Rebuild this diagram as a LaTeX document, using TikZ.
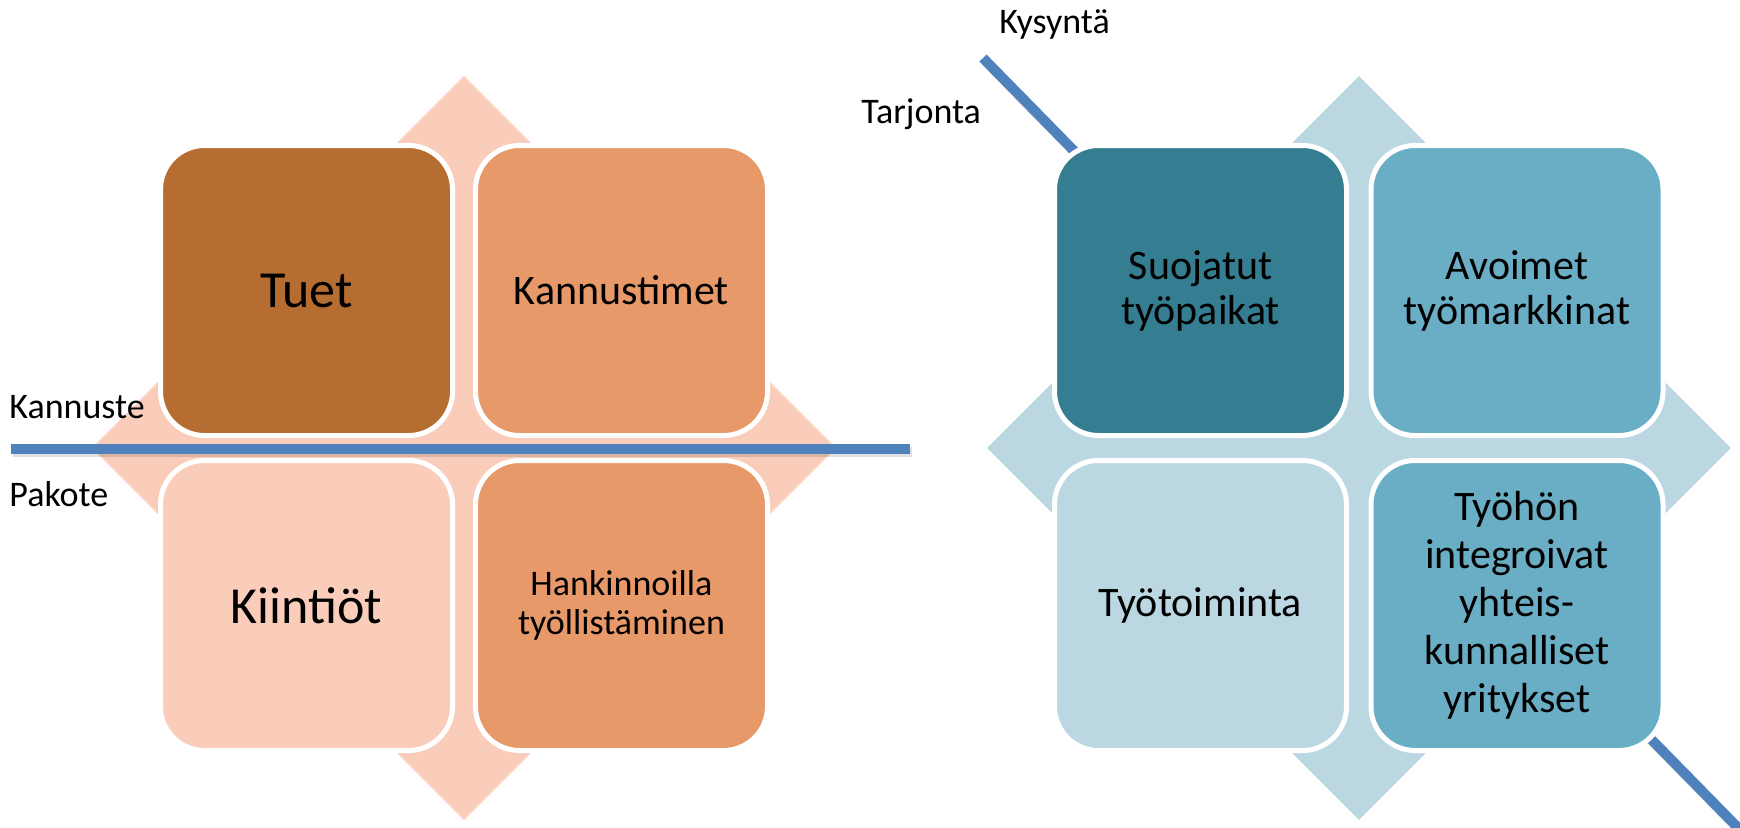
\documentclass[tikz,border=0pt]{standalone}
\usepackage{fontspec}
\setmainfont{Carlito}
\usetikzlibrary{shapes.geometric}

\definecolor{brownbox}{HTML}{B56D32}
\definecolor{orangebox}{HTML}{E8996A}
\definecolor{peach}{HTML}{F9CDB9}
\definecolor{tealbox}{HTML}{357D91}
\definecolor{bluebox}{HTML}{6AAEC5}
\definecolor{paleblue}{HTML}{BBD8E2}
\definecolor{axisblue}{HTML}{4F81BD}

\tikzset{
  cell/.style={draw=white, line width=2.5pt, rounded corners=22pt,
    minimum width=146pt, minimum height=145pt, inner sep=0pt,
    align=center, font=\fontsize{21}{22.5}\selectfont},
  backdrop/.style={diamond, inner sep=0pt, minimum size=372pt},
  axis/.style={draw=axisblue, line width=5pt},
  axisshadow/.style={draw=black, opacity=0.12, line width=5pt},
  lbl/.style={anchor=base west, inner sep=0pt, font=\fontsize{18}{20}\selectfont}
}

\begin{document}
\begin{tikzpicture}[x=0.5pt, y=-0.5pt]
  \useasboundingbox (0,0) rectangle (1740,827);
  \clip (0,0) rectangle (1740,827);

  % left matrix
  \node[backdrop, fill=peach] (lbg) at (464,448) {};
  \node[cell, fill=brownbox, font=\fontsize{26}{28}\selectfont] (tuet) at (306.5,290.5) {Tuet};
  \node[cell, fill=orangebox] (kannustimet) at (621.5,290.5) {Kannustimet};
  \node[cell, fill=peach, font=\fontsize{26}{28}\selectfont] (kiintiot) at (306.5,605.5) {Kiintiöt};
  \node[cell, fill=orangebox, font=\fontsize{18}{19.2}\selectfont] (hankinnat) at (621.5,605.5) {Hankinnoilla\\työllistäminen};

  \coordinate (hl) at (11,449);
  \coordinate (hr) at (910,449);
  \draw[axisshadow] ([shift={(2,3)}]hl) -- ([shift={(2,3)}]hr);
  \draw[axis] (hl) -- (hr);

  \node[lbl] (kannuste) at (9,418) {Kannuste};
  \node[lbl] (pakote) at (9,506.5) {Pakote};

  % right matrix
  \coordinate (dt) at (983,58);
  \coordinate (db) at (1750,840);
  \draw[axisshadow] ([shift={(2,3)}]dt) -- ([shift={(2,3)}]db);
  \draw[axis] (dt) -- (db);

  \node[backdrop, fill=paleblue] (rbg) at (1359,448) {};
  \node[cell, fill=tealbox] (suojatut) at (1200.5,290.5) {Suojatut\\työpaikat};
  \node[cell, fill=bluebox] (avoimet) at (1517,290.5) {Avoimet\\työmarkkinat};
  \node[cell, fill=paleblue] (tyotoiminta) at (1200.5,605.5) {Työtoiminta};
  \node[cell, fill=bluebox, font=\fontsize{21}{24}\selectfont] (yritykset) at (1517,605.5) {Työhön\\integroivat\\yhteis-\\kunnalliset\\yritykset};

  \node[lbl] (tarjonta) at (861,123) {Tarjonta};
  \node[lbl] (kysynta) at (999,33.3) {Kysyntä};
\end{tikzpicture}
\end{document}
